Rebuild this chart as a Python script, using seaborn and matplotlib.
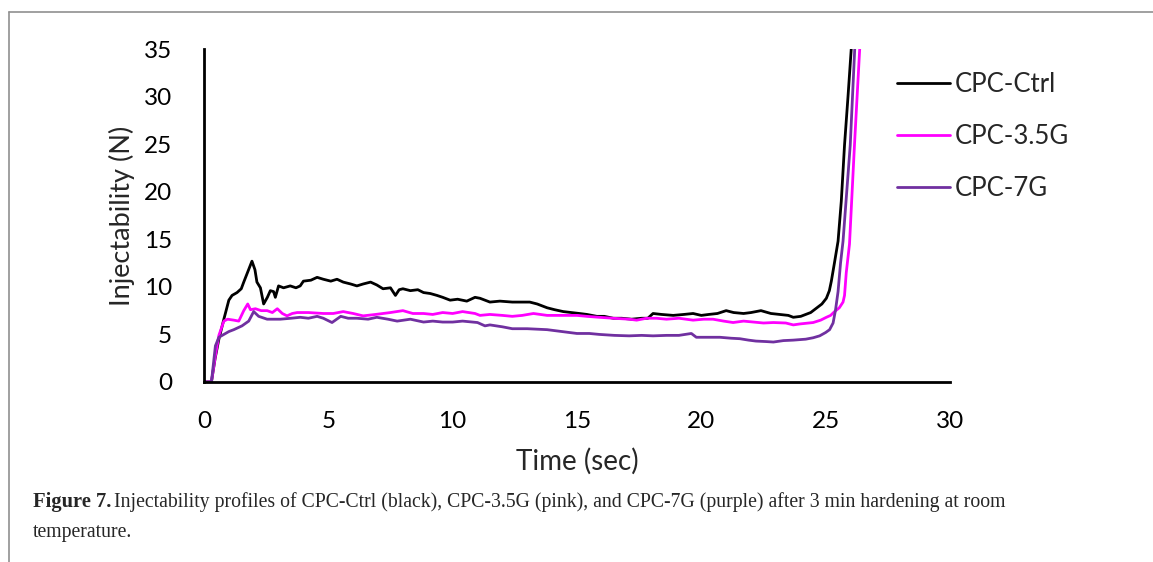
import pandas as pd
import matplotlib
matplotlib.use("Agg")
import matplotlib.pyplot as plt
import seaborn as sns
from matplotlib.lines import Line2D

# values (time in sec, force in N)
ctrl_t = [0, 0.3, 0.45, 0.6, 0.8, 1.0, 1.13, 1.33, 1.5, 1.6, 1.75, 1.93, 2.05, 2.13, 2.27, 2.4,
          2.55, 2.67, 2.8, 2.87, 3.0, 3.2, 3.47, 3.7, 3.87, 4.0, 4.3, 4.55, 4.8, 5.1, 5.35, 5.6,
          5.9, 6.15, 6.4, 6.7, 6.95, 7.2, 7.5, 7.7, 7.85, 8.0, 8.3, 8.6, 8.83, 9.1, 9.37, 9.6,
          9.9, 10.2, 10.57, 10.9, 11.1, 11.5, 11.9, 12.4, 13.1, 13.4, 13.8, 14.1, 14.45, 15.1,
          15.4, 15.8, 16.1, 16.46, 16.8, 17.2, 17.6, 17.85, 18.06, 18.4, 18.87, 19.3, 19.67,
          20.0, 20.3, 20.65, 21.0, 21.3, 21.7, 22.0, 22.4, 22.8, 23.15, 23.5, 23.7, 24.0, 24.2,
          24.4, 24.6, 24.85, 25.03, 25.15, 25.23, 25.36, 25.5, 25.63, 25.76, 25.9, 26.03, 26.15]
ctrl_f = [0, 0, 2.5, 4.5, 6.6, 8.6, 9.1, 9.4, 9.8, 10.5, 11.5, 12.7, 11.8, 10.5, 9.9, 8.2,
          8.9, 9.6, 9.5, 8.9, 10.1, 9.9, 10.1, 9.9, 10.1, 10.6, 10.7, 11.0, 10.8, 10.6, 10.8, 10.5,
          10.3, 10.1, 10.3, 10.5, 10.2, 9.8, 9.9, 9.1, 9.7, 9.8, 9.6, 9.7, 9.4, 9.3, 9.1, 8.9,
          8.6, 8.7, 8.5, 8.9, 8.8, 8.4, 8.5, 8.4, 8.4, 8.2, 7.8, 7.6, 7.4, 7.2,
          7.1, 6.9, 6.9, 6.7, 6.7, 6.6, 6.7, 6.7, 7.2, 7.1, 7.0, 7.1, 7.2,
          7.0, 7.1, 7.2, 7.5, 7.3, 7.2, 7.3, 7.5, 7.2, 7.1, 7.0, 6.8, 6.9, 7.1,
          7.3, 7.7, 8.2, 8.8, 9.6, 10.6, 12.6, 14.8, 19.0, 24.9, 30.0, 35.0, 40.0]

g35_t = [0, 0.3, 0.45, 0.6, 0.8, 0.95, 1.2, 1.4, 1.6, 1.76, 1.87, 2.07, 2.3, 2.54, 2.75, 2.95,
         3.15, 3.34, 3.55, 3.75, 4.2, 4.8, 5.2, 5.6, 6.0, 6.4, 6.9, 7.5, 8.0, 8.4, 8.83, 9.2,
         9.6, 10.0, 10.4, 10.9, 11.1, 11.5, 12.0, 12.4, 12.8, 13.25, 13.8, 14.45, 15.0, 15.4,
         15.9, 16.46, 17.1, 17.4, 17.8, 18.2, 18.6, 19.1, 19.67, 20.1, 20.47, 20.9, 21.28,
         21.7, 22.1, 22.5, 22.9, 23.4, 23.7, 23.96, 24.5, 24.8, 25.03, 25.2, 25.36, 25.55,
         25.7, 25.76, 25.83, 25.96, 26.16, 26.37, 26.45]
g35_f = [0, 0, 2.6, 4.9, 6.4, 6.6, 6.5, 6.4, 7.5, 8.2, 7.6, 7.7, 7.5, 7.5, 7.3, 7.7,
         7.2, 6.95, 7.2, 7.3, 7.3, 7.2, 7.2, 7.4, 7.2, 6.95, 7.1, 7.3, 7.5, 7.2, 7.2, 7.1,
         7.3, 7.2, 7.4, 7.2, 7.0, 7.1, 7.0, 6.9, 7.0, 7.2, 7.0, 7.0, 7.0, 6.9,
         6.8, 6.7, 6.6, 6.5, 6.7, 6.7, 6.6, 6.7, 6.5, 6.6, 6.6, 6.4, 6.25,
         6.4, 6.3, 6.2, 6.25, 6.2, 6.0, 6.1, 6.25, 6.5, 6.8, 7.0, 7.4, 7.8,
         8.4, 9.1, 11.5, 14.5, 24.9, 35.0, 39.0]

g7_t = [0, 0.3, 0.46, 0.6, 0.8, 1.0, 1.2, 1.53, 1.8, 2.0, 2.2, 2.54, 3.07, 3.5, 3.87, 4.2,
        4.55, 4.8, 5.15, 5.5, 5.8, 6.15, 6.6, 6.95, 7.4, 7.77, 8.3, 8.83, 9.2, 9.6, 10.0,
        10.4, 11.0, 11.3, 11.5, 12.0, 12.4, 13.0, 13.8, 14.4, 15.0, 15.5, 15.9, 16.5, 17.1,
        17.6, 18.06, 18.6, 19.1, 19.6, 19.8, 20.3, 20.75, 21.2, 21.55, 21.9, 22.2, 22.6,
        22.9, 23.3, 23.7, 24.2, 24.5, 24.76, 25.0, 25.16, 25.3, 25.4, 25.5, 25.6, 25.7,
        25.99, 26.17, 26.25]
g7_f = [0, 0, 3.8, 4.7, 5.0, 5.3, 5.5, 5.9, 6.4, 7.4, 6.9, 6.6, 6.6, 6.7, 6.8, 6.7,
        6.9, 6.7, 6.25, 6.9, 6.7, 6.7, 6.6, 6.8, 6.6, 6.4, 6.6, 6.3, 6.4, 6.3, 6.3,
        6.4, 6.25, 5.9, 6.0, 5.8, 5.6, 5.6, 5.5, 5.3, 5.1, 5.1, 5.0, 4.9, 4.85,
        4.9, 4.85, 4.9, 4.9, 5.1, 4.7, 4.7, 4.7, 4.6, 4.55, 4.4, 4.3, 4.25,
        4.2, 4.35, 4.4, 4.5, 4.65, 4.85, 5.2, 5.5, 6.2, 7.6, 9.5, 12.5, 14.8,
        24.9, 35.0, 39.0]

labels = ["CPC-Ctrl", "CPC-3.5G", "CPC-7G"]
colors = ["#000000", "#FF00FF", "#7030A0"]

df = pd.concat([
    pd.DataFrame({"t": ctrl_t, "f": ctrl_f, "sample": labels[0]}),
    pd.DataFrame({"t": g35_t, "f": g35_f, "sample": labels[1]}),
    pd.DataFrame({"t": g7_t, "f": g7_f, "sample": labels[2]}),
])

sns.set_style("white")
plt.rcParams["font.family"] = ["Lato", "DejaVu Sans"]

fig = plt.figure(figsize=(11.53, 5.62), dpi=100)
ax = fig.add_axes([0.1769, 0.3203, 0.8239 - 0.1769, 0.9128 - 0.3203])

sns.lineplot(data=df, x="t", y="f", hue="sample", hue_order=labels,
             palette=dict(zip(labels, colors)), estimator=None, sort=False,
             linewidth=2.0, ax=ax)

ax.set_xlim(0, 30)
ax.set_ylim(0, 35)
ax.set_xticks(range(0, 31, 5))
ax.set_yticks(range(0, 36, 5))
ax.tick_params(axis="both", direction="in", length=8, width=1.2, labelsize=17.5, colors="black")
ax.tick_params(axis="y", pad=23)
ax.tick_params(axis="x", pad=21)
for s in ["top", "right"]:
    ax.spines[s].set_visible(False)
for s in ["left", "bottom"]:
    ax.spines[s].set_color("black")
    ax.spines[s].set_linewidth(2)

ax.set_xlabel("Time (sec)", fontsize=20, labelpad=11)
ax.set_ylabel("Injectability (N)", fontsize=19.5, labelpad=6)

ax.legend(loc="upper left", bbox_to_anchor=(0.769, 0.89), bbox_transform=fig.transFigure,
          frameon=False, fontsize=18.5, handlelength=2.05, handletextpad=0.2,
          labelspacing=1.05, borderaxespad=0)

# page frame and caption from the article
fig.add_artist(Line2D([9 / 1153, 9 / 1153], [0, 1 - 12 / 562], color="#909090", lw=1.2))
fig.add_artist(Line2D([9 / 1153, 1], [1 - 12 / 562, 1 - 12 / 562], color="#909090", lw=1.2))

renderer = fig.canvas.get_renderer()
bold = fig.text(33 / 1153, 1 - 507 / 562, "Figure 7.", fontsize=14.8, fontweight="bold",
                family="Liberation Serif", va="baseline")
bx = bold.get_window_extent(renderer).x1
fig.text((bx + 3) / 1153, 1 - 507 / 562,
         "Injectability profiles of CPC-Ctrl (black), CPC-3.5G (pink), and CPC-7G (purple) after 3 min hardening at room",
         fontsize=14.2, family="Liberation Serif", va="baseline")
fig.text(33 / 1153, 1 - 537 / 562, "temperature.", fontsize=14.2,
         family="Liberation Serif", va="baseline")

fig.savefig("out.png", dpi=100)
